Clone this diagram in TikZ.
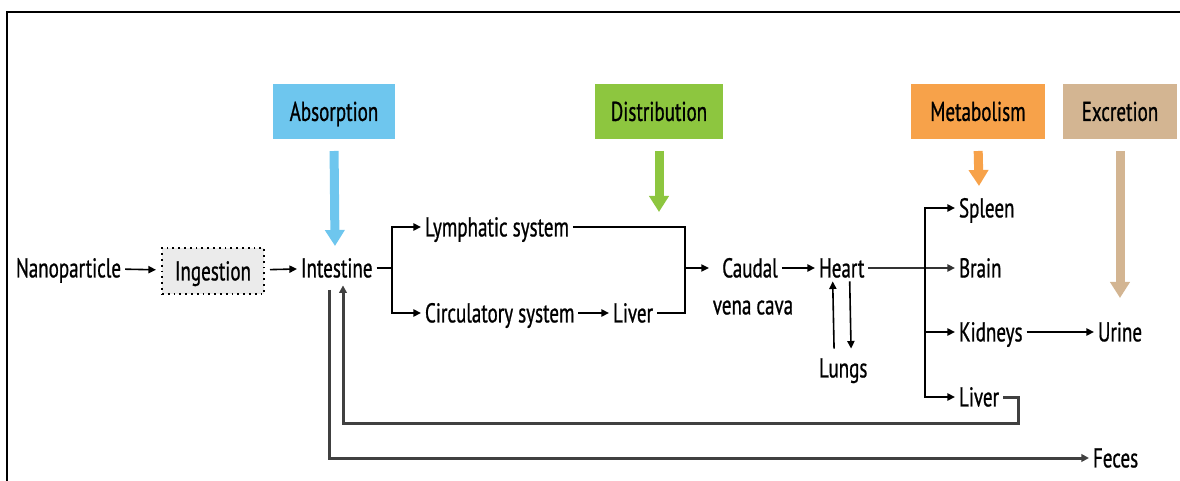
\documentclass[tikz,border=0pt]{standalone}
\usepackage{fontspec}
\setmainfont{PT Sans}[FakeStretch=0.7, FakeBold=0.8]
\usetikzlibrary{arrows.meta}
\definecolor{cabs}{HTML}{6EC6EE}
\definecolor{cdist}{HTML}{8DC63F}
\definecolor{cmet}{HTML}{F7A24A}
\definecolor{cexc}{HTML}{D3B592}
\tikzset{
  txt/.style={font=\fontsize{13.6}{15}\selectfont, inner sep=0pt, outer sep=2pt, text height=9.4pt, text depth=0pt, anchor=west},
  phase/.style={txt, anchor=center, minimum height=27.5pt},
  arr/.style={line width=0.8pt, -{Triangle[length=3.8pt,width=3.6pt]}},
  ln/.style={line width=0.8pt},
  ret/.style={draw=black!75, -{Triangle[length=3.8pt,width=3.8pt]}, line width=1.5pt},
  fat/.style={line width=4.5pt, -{Triangle[length=8pt,width=9.5pt]}},
}
\begin{document}
\begin{tikzpicture}[x=0.5pt,y=-0.5pt]
\useasboundingbox (0,0) rectangle (1180,481);
\draw[line width=1.1pt] (7,481) -- (7,12) -- (1180,12);

% phase boxes
\node[phase, fill=cabs, minimum width=61pt] (abs) at (334,111.5) {Absorption};
\node[phase, fill=cdist, minimum width=64pt] (dist) at (659,111.5) {Distribution};
\node[phase, fill=cmet, minimum width=67pt] (met) at (978,111.5) {Metabolism};
\node[phase, fill=cexc, minimum width=57pt] (exc) at (1120,111.5) {Excretion};

% text nodes
\node[txt] (nano) at (12,268) {Nanoparticle};
\node[txt, anchor=center, draw, dotted, line width=0.9pt, fill=black!8, minimum width=51pt, minimum height=23pt, outer sep=3pt] (ing) at (213,271) {Ingestion};
\node[txt] (intest) at (297,268) {Intestine};
\node[txt] (lymph) at (421,227) {Lymphatic system};
\node[txt] (circ) at (421,313) {Circulatory system};
\node[txt] (liverA) at (609,313) {Liver};
\node[txt, anchor=center] (caudal) at (750,268) {Caudal};
\node[txt, anchor=center] (vena) at (753,305) {vena cava};
\node[txt] (heart) at (815,268) {Heart};
\node[txt] (lungs) at (815,368) {Lungs};
\node[txt] (spleen) at (955,208) {Spleen};
\node[txt] (brain) at (955,268) {Brain};
\node[txt] (kidneys) at (955,332) {Kidneys};
\node[txt] (liverB) at (955,397) {Liver};
\node[txt] (urine) at (1094,332) {Urine};
\node[txt] (feces) at (1089,458) {Feces};

% junction coordinates
\coordinate (b1) at (392,268);
\coordinate (b2) at (685,268);
\coordinate (b3) at (925,268);
\coordinate (c1) at (1018,423);
\coordinate (c2) at (343,423);
\coordinate (f0) at (329,290);
\coordinate (dt) at (659,212);
\coordinate (mt) at (979,186);
\coordinate (at) at (335,246);
\coordinate (et) at (1120,298);

% fat phase arrows
\draw[fat, cabs, shorten <=4pt] (abs.south) -- (at);
\draw[fat, cdist, shorten <=4pt] (dist.south) -- (dt);
\draw[fat, cmet, shorten <=4pt] (met.south) -- (mt);
\draw[fat, cexc, shorten <=4pt] (exc.south) -- (et);

% flow
\draw[arr] (nano) -- (ing);
\draw[arr] (ing) -- (intest);
\draw[ln] (intest) -- (b1);
\draw[arr] (b1) |- (lymph);
\draw[arr] (b1) |- (circ);
\draw[arr] (circ) -- (liverA);
\draw[ln] (lymph) -| (b2);
\draw[ln] (liverA) -| (b2);
\draw[arr] (b2) -- (caudal.west -| vena.west);
\draw[arr] (caudal) -- (heart);
\draw[arr, line width=1.2pt, draw=black!80] (heart) -- (brain);
\draw[arr] (b3) |- (spleen);
\draw[arr] (b3) |- (kidneys);
\draw[arr] (b3) |- (liverB);
\draw[arr, shorten <=3pt] ([xshift=-4.5pt]lungs.north) -- ([xshift=-4.5pt]heart.south);
\draw[arr, shorten >=3pt] ([xshift=4pt]heart.south) -- ([xshift=4pt]lungs.north);
\draw[arr] (kidneys) -- (urine);

% return loops
\draw[ret] (liverB) -| (c1) -- (c2) -- ([yshift=-2pt]c2 |- intest.south);
\draw[ret] (f0) |- (feces);
\end{tikzpicture}
\end{document}
